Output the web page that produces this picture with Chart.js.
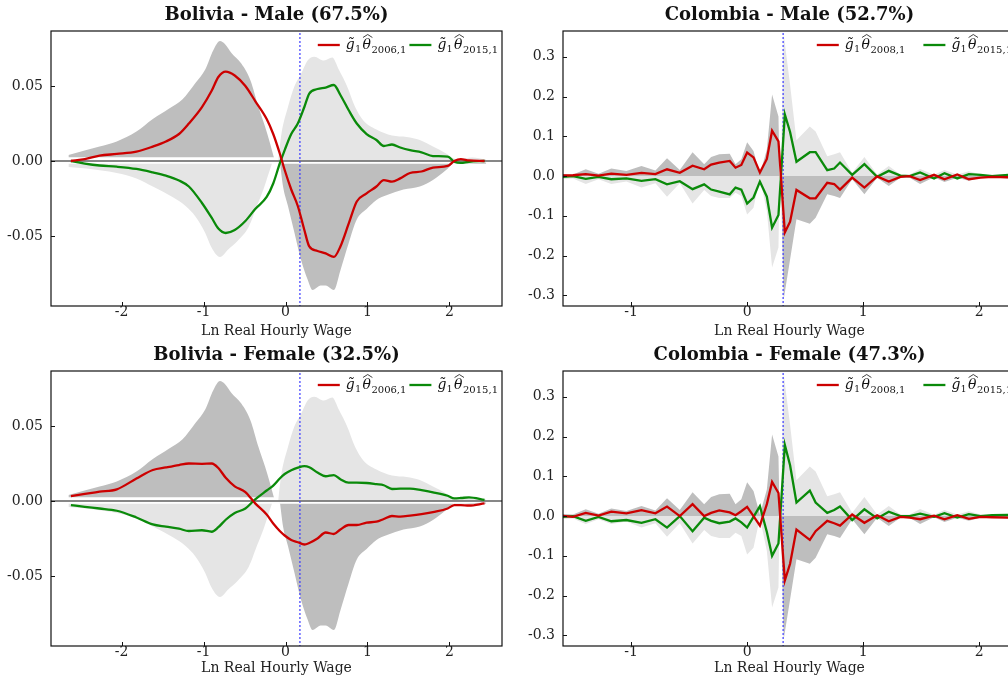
<!DOCTYPE html>
<html>
<head>
<meta charset="utf-8">
<title>Bolivia / Colombia</title>
<script src="https://cdn.jsdelivr.net/npm/chart.js@4.4.1/dist/chart.umd.min.js"></script>
<style>
  html, body { margin: 0; padding: 0; background: #fff; }
  body { width: 1008px; height: 675px; overflow: hidden; position: relative; }
  canvas { position: absolute; }
</style>
</head>
<body>
<canvas id="bolMale" width="504" height="340" style="left:0;top:0"></canvas>
<canvas id="colMale" width="516" height="340" style="left:504px;top:0"></canvas>
<canvas id="bolFemale" width="504" height="335" style="left:0;top:340px"></canvas>
<canvas id="colFemale" width="516" height="335" style="left:504px;top:340px"></canvas>
<script>
// ---------------- data: Bolivia ----------------
const bolX = [-2.62, -2.45, -2.27, -2.06, -1.82, -1.62, -1.46, -1.30, -1.18, -1.02, -0.90, -0.82, -0.73, -0.62, -0.49, -0.37, -0.23, -0.15, -0.07, -0.01,
  0.07, 0.15, 0.23, 0.29, 0.39, 0.49, 0.59, 0.67, 0.77, 0.87, 0.99, 1.11, 1.20, 1.30, 1.40, 1.52, 1.66, 1.80, 1.98, 2.06, 2.14, 2.24, 2.43];

const bolRedMale = [0, 0.0012, 0.0036, 0.0047, 0.0062, 0.0096, 0.013, 0.018, 0.025, 0.036, 0.047, 0.056, 0.0596, 0.057, 0.050, 0.040, 0.028, 0.018, 0.005, -0.006,
  -0.019, -0.030, -0.046, -0.057, -0.060, -0.0616, -0.064, -0.057, -0.042, -0.027, -0.0216, -0.017, -0.0127, -0.0138, -0.0116, -0.008, -0.007, -0.0044, -0.0033, 0, 0.0013, 0.0004, 0];
const bolGreenMale = [0, -0.0017, -0.003, -0.0038, -0.0053, -0.0076, -0.0098, -0.013, -0.017, -0.028, -0.038, -0.045, -0.048, -0.046, -0.040, -0.032, -0.024, -0.015, -0.0016, 0.0073,
  0.018, 0.025, 0.036, 0.045, 0.048, 0.049, 0.0507, 0.044, 0.034, 0.025, 0.018, 0.014, 0.010, 0.011, 0.009, 0.0072, 0.0058, 0.0033, 0.0029, -0.0004, -0.0013, -0.0005, 0];
const bolRedFemale = [0.0033, 0.0048, 0.0062, 0.0078, 0.015, 0.0207, 0.0224, 0.024, 0.025, 0.0248, 0.025, 0.022, 0.0155, 0.0098, 0.006, -0.0016, -0.009, -0.015, -0.020, -0.023,
  -0.026, -0.0275, -0.029, -0.028, -0.025, -0.021, -0.022, -0.019, -0.016, -0.016, -0.0144, -0.0138, -0.012, -0.010, -0.0104, -0.0098, -0.0088, -0.0074, -0.005, -0.0027, -0.0027, -0.003, -0.0016];
const bolGreenFemale = [-0.0027, -0.0039, -0.005, -0.0065, -0.011, -0.0156, -0.0171, -0.0185, -0.020, -0.0195, -0.0205, -0.0175, -0.0125, -0.008, -0.005, 0.0011, 0.007, 0.0103, 0.015, 0.018,
  0.0205, 0.0222, 0.0232, 0.0225, 0.019, 0.0165, 0.0173, 0.0145, 0.0122, 0.0122, 0.012, 0.0112, 0.0105, 0.008, 0.0082, 0.0082, 0.0072, 0.0058, 0.0035, 0.0018, 0.002, 0.0024, 0.0007];

// shaded envelopes (same in both Bolivia panels)
const bolDarkLX = [-2.65, -2.43, -2.27, -2.06, -1.82, -1.62, -1.42, -1.26, -1.10, -0.98, -0.88, -0.80, -0.74, -0.66, -0.54, -0.43, -0.33, -0.25, -0.19, -0.14];
const bolDarkL = [0.004, 0.0073, 0.0096, 0.013, 0.0196, 0.028, 0.035, 0.041, 0.052, 0.061, 0.074, 0.080, 0.078, 0.072, 0.065, 0.054, 0.036, 0.023, 0.012, 0.002];
const bolLightLX = [-2.65, -2.43, -2.06, -1.82, -1.62, -1.38, -1.22, -1.10, -0.98, -0.90, -0.80, -0.70, -0.58, -0.45, -0.35, -0.27, -0.21, -0.165];
const bolLightL = [-0.004, -0.005, -0.008, -0.0116, -0.017, -0.024, -0.030, -0.037, -0.048, -0.058, -0.064, -0.059, -0.053, -0.044, -0.030, -0.019, -0.009, -0.0016];
const bolLightRX = [-0.09, -0.05, 0.03, 0.11, 0.19, 0.27, 0.35, 0.47, 0.57, 0.65, 0.75, 0.85, 0.95, 1.11, 1.30, 1.48, 1.64, 1.80, 1.96, 2.04, 2.12, 2.28, 2.45];
const bolLightR = [0.0, 0.018, 0.036, 0.050, 0.058, 0.067, 0.0696, 0.067, 0.069, 0.061, 0.050, 0.036, 0.027, 0.021, 0.017, 0.016, 0.014, 0.0096, 0.005, 0.002, 0.001, 0.0024, 0.001];
const bolDarkRX = [-0.07, -0.03, 0.03, 0.11, 0.19, 0.27, 0.33, 0.43, 0.49, 0.59, 0.67, 0.77, 0.87, 0.99, 1.11, 1.24, 1.44, 1.64, 1.80, 1.96, 2.06, 2.20, 2.45];
const bolDarkR = [0.0, -0.017, -0.030, -0.048, -0.066, -0.079, -0.086, -0.083, -0.083, -0.086, -0.073, -0.055, -0.039, -0.032, -0.026, -0.0227, -0.019, -0.017, -0.0127, -0.006, -0.0016, -0.0016, -0.001];

// ---------------- data: Colombia ----------------
const colX = [-1.65, -1.50, -1.39, -1.28, -1.17, -1.04, -0.91, -0.79, -0.69, -0.58, -0.47, -0.37, -0.31, -0.24, -0.15, -0.10, -0.05, 0.0, 0.055, 0.11,
  0.17, 0.215, 0.27, 0.325, 0.37, 0.425, 0.54, 0.59, 0.69, 0.75, 0.80, 0.905, 1.01, 1.12, 1.22, 1.32, 1.40, 1.49, 1.61, 1.70, 1.81, 1.91, 2.01, 2.11, 2.25, 2.40];

const colRedMale = [0.001, 0.002, 0.005, 0.001, 0.006, 0.003, 0.008, 0.005, 0.017, 0.008, 0.026, 0.017, 0.029, 0.034, 0.038, 0.021, 0.028, 0.059, 0.047, 0.009,
  0.043, 0.114, 0.087, -0.142, -0.115, -0.035, -0.056, -0.056, -0.017, -0.020, -0.034, -0.004, -0.029, -0.001, -0.014, -0.002, 0.0, -0.010, 0.003, -0.008, 0.004, -0.008, -0.004, -0.002, -0.003, -0.002];
const colGreenMale = [-0.004, 0.0, -0.007, -0.002, -0.008, -0.006, -0.012, -0.008, -0.021, -0.013, -0.033, -0.021, -0.034, -0.039, -0.046, -0.029, -0.034, -0.069, -0.054, -0.014,
  -0.052, -0.130, -0.098, 0.155, 0.111, 0.036, 0.060, 0.060, 0.015, 0.019, 0.034, 0.003, 0.030, -0.002, 0.013, 0.001, 0.0, 0.009, -0.006, 0.007, -0.006, 0.005, 0.003, 0.0, 0.003, 0.001];
const colRedFemale = [0.0025, -0.002, 0.008, 0.001, 0.011, 0.007, 0.015, 0.007, 0.024, 0.0, 0.030, 0.0, 0.008, 0.014, 0.009, 0.002, 0.012, 0.023, 0.0, -0.024,
  0.030, 0.086, 0.058, -0.162, -0.120, -0.034, -0.060, -0.038, -0.012, -0.018, -0.024, 0.004, -0.017, 0.002, -0.013, -0.002, -0.004, -0.008, 0.001, -0.008, 0.002, -0.007, -0.002, -0.003, -0.004, -0.002];
const colGreenFemale = [-0.004, 0.0, -0.012, -0.002, -0.013, -0.010, -0.017, -0.008, -0.029, 0.0, -0.038, -0.004, -0.012, -0.018, -0.014, -0.006, -0.016, -0.029, -0.002, 0.025,
  -0.040, -0.100, -0.069, 0.179, 0.128, 0.034, 0.064, 0.034, 0.008, 0.015, 0.024, -0.010, 0.017, -0.006, 0.011, 0.0, 0.0, 0.006, -0.002, 0.007, -0.004, 0.005, 0.0, 0.0025, 0.003, 0.002];

// shaded envelopes (same in both Colombia panels)
const colBandLX = [-1.65, -1.50, -1.39, -1.28, -1.17, -1.04, -0.91, -0.79, -0.69, -0.58, -0.47, -0.37, -0.31, -0.24, -0.15, -0.10, -0.05, 0.0, 0.055, 0.11, 0.17, 0.215, 0.27, 0.28];
const colDarkL = [0.006, 0.004, 0.017, 0.006, 0.019, 0.013, 0.025, 0.014, 0.045, 0.015, 0.060, 0.030, 0.048, 0.055, 0.056, 0.030, 0.042, 0.085, 0.063, 0.004, 0.067, 0.205, 0.150, 0.0];
const colLightL = [-0.008, -0.006, -0.020, -0.008, -0.020, -0.014, -0.029, -0.018, -0.052, -0.018, -0.069, -0.035, -0.050, -0.055, -0.055, -0.042, -0.050, -0.097, -0.080, -0.004, -0.088, -0.230, -0.180, 0.0];
const colBandRX = [0.29, 0.315, 0.37, 0.425, 0.54, 0.59, 0.69, 0.75, 0.80, 0.905, 1.01, 1.12, 1.22, 1.32, 1.40, 1.49, 1.61, 1.70, 1.81, 1.91, 2.01, 2.11, 2.25, 2.40];
const colLightR = [0.0, 0.357, 0.230, 0.090, 0.125, 0.112, 0.050, 0.055, 0.060, 0.008, 0.048, 0.004, 0.025, 0.004, 0.004, 0.018, 0.003, 0.015, 0.004, 0.012, 0.004, 0.003, 0.006, 0.004];
const colDarkR = [0.0, -0.310, -0.210, -0.109, -0.120, -0.105, -0.046, -0.050, -0.055, -0.008, -0.046, -0.004, -0.025, -0.004, -0.004, -0.020, -0.003, -0.015, -0.004, -0.012, -0.004, -0.003, -0.006, -0.004];

// axes
const bolXTicks = [-2, -1, 0, 1, 2];
const bolYTicks = [-0.05, 0, 0.05];
const colXTicks = [-1, 0, 1, 2];
const colYTicks = [-0.3, -0.2, -0.1, 0, 0.1, 0.2, 0.3];
const bolMinWage = 0.176;
const colMinWage = 0.31;

const RED = '#cc0000', GREEN = '#0a8a0a', DARK = '#bebebe', LIGHT = '#e5e5e5', BLUE = '#3a3aff';
const FONT = '"DejaVu Serif", serif';
Chart.defaults.font.family = FONT;

function pts(xs, ys) { return xs.map((x, i) => ({ x: x, y: ys[i] })); }

function lineDs(xs, ys, color, smooth) {
  return { data: pts(xs, ys), borderColor: color, borderWidth: 2.3, pointRadius: 0, fill: false,
    cubicInterpolationMode: smooth ? 'monotone' : 'default', tension: 0 };
}
function bandDs(xs, ys, color, base, smooth) {
  return { data: pts(xs, ys), borderWidth: 0, borderColor: 'rgba(0,0,0,0)', backgroundColor: color,
    pointRadius: 0, fill: { value: base }, cubicInterpolationMode: smooth ? 'monotone' : 'default', tension: 0 };
}
function guideDs(xs, ys, color, width, dash) {
  return { data: pts(xs, ys), borderColor: color, borderWidth: width, borderDash: dash || [], pointRadius: 0, fill: false };
}

// math label: g~_1 theta^_{year,1}
function mathLabel(ctx, x, y, year, draw) {
  ctx.textAlign = 'left';
  ctx.textBaseline = 'alphabetic';
  ctx.font = 'italic 14px ' + FONT;
  if (draw) ctx.fillText('g\u0303', x, y);
  x += ctx.measureText('g').width + 0.5;
  ctx.font = '9px ' + FONT;
  if (draw) ctx.fillText('1', x, y + 3);
  x += ctx.measureText('1').width + 1.5;
  ctx.font = 'italic 14px ' + FONT;
  const tw = ctx.measureText('\u03b8').width;
  if (draw) {
    ctx.fillText('\u03b8', x, y);
    ctx.beginPath();
    ctx.moveTo(x + 0.5, y - 11.5);
    ctx.lineTo(x + tw / 2 + 1, y - 14.5);
    ctx.lineTo(x + tw + 1.5, y - 11.5);
    ctx.lineWidth = 0.8;
    ctx.stroke();
  }
  x += tw + 0.5;
  const sub = year + ',1';
  ctx.font = '10px ' + FONT;
  if (draw) ctx.fillText(sub, x, y + 3.5);
  x += ctx.measureText(sub).width;
  return x;
}

const panelDeco = {
  id: 'panelDeco',
  afterDatasetsDraw(chart, args, opts) {
    const ctx = chart.ctx, a = chart.chartArea;
    const sx = chart.scales.x, sy = chart.scales.y;
    ctx.save();
    ctx.strokeStyle = '#111';
    ctx.fillStyle = '#111';
    ctx.lineWidth = 1.2;
    ctx.strokeRect(a.left, a.top, a.right - a.left, a.bottom - a.top);
    ctx.lineWidth = 1;
    ctx.beginPath();
    sx.ticks.forEach(t => {
      const px = Math.round(sx.getPixelForValue(t.value)) + 0.5;
      ctx.moveTo(px, a.bottom); ctx.lineTo(px, a.bottom - 4);
    });
    sy.ticks.forEach(t => {
      const py = Math.round(sy.getPixelForValue(t.value)) + 0.5;
      ctx.moveTo(a.left, py); ctx.lineTo(a.left + 4, py);
    });
    ctx.stroke();

    // title
    ctx.font = 'bold 18px ' + FONT;
    ctx.textAlign = 'center';
    ctx.textBaseline = 'middle';
    ctx.fillText(opts.title, (a.left + a.right) / 2, 15);

    // x axis title
    ctx.font = '14px ' + FONT;
    ctx.fillStyle = '#222';
    ctx.fillText('Ln Real Hourly Wage', (a.left + a.right) / 2, opts.xTitleY);
    ctx.fillStyle = '#111';

    // legend, right aligned inside the plot
    const items = [{ color: RED, year: opts.years[0] }, { color: GREEN, year: opts.years[1] }];
    const sampleW = 22, sampleGap = 6;
    let total = 0;
    items.forEach((it, i) => {
      it.w = mathLabel(ctx, 0, 0, it.year, false);
      total += sampleW + sampleGap + it.w + (i ? opts.gap : 0);
    });
    let x = a.right - 4 - total;
    const ly = a.top + 14;
    items.forEach((it, i) => {
      if (i) x += opts.gap;
      ctx.strokeStyle = it.color;
      ctx.lineWidth = 2.3;
      ctx.beginPath(); ctx.moveTo(x, ly); ctx.lineTo(x + sampleW, ly); ctx.stroke();
      x += sampleW + sampleGap;
      ctx.strokeStyle = '#111';
      x = mathLabel(ctx, x, ly + 4, it.year, true);
    });
    ctx.restore();
  }
};

function makePanel(id, cfg) {
  const axisFont = { family: FONT, size: 14 };
  new Chart(document.getElementById(id), {
    type: 'line',
    data: { datasets: cfg.datasets },
    plugins: [panelDeco],
    options: {
      responsive: false,
      animation: false,
      events: [],
      layout: { padding: { top: 31, left: 0, right: cfg.padRight, bottom: 0 } },
      plugins: {
        legend: { display: false },
        tooltip: { enabled: false },
        panelDeco: { title: cfg.title, years: cfg.years, gap: cfg.gap, xTitleY: cfg.xTitleY }
      },
      scales: {
        x: {
          type: 'linear', min: cfg.xMin, max: cfg.xMax,
          afterBuildTicks: s => { s.ticks = cfg.xTicks.map(v => ({ value: v })); },
          afterFit: s => { s.height = cfg.xAxisH; },
          grid: { display: false, drawTicks: false },
          border: { display: false },
          ticks: { font: axisFont, color: '#222', padding: -2, maxRotation: 0, callback: v => String(v) }
        },
        y: {
          type: 'linear', min: cfg.yMin, max: cfg.yMax,
          afterBuildTicks: s => { s.ticks = cfg.yTicks.map(v => ({ value: v })); },
          afterFit: s => { s.width = cfg.yAxisW; },
          grid: { display: false, drawTicks: false },
          border: { display: false },
          ticks: { font: axisFont, color: '#222', padding: 8, callback: v => v.toFixed(cfg.digits) }
        }
      }
    }
  });
}

function bolDatasets(red, green) {
  return [
    lineDs(bolX, red, RED, true),
    lineDs(bolX, green, GREEN, true),
    guideDs([bolMinWage, bolMinWage], [-0.1, 0.09], BLUE, 1.2, [2, 2]),
    guideDs([-3, 3], [0, 0], '#111', 1.2),
    bandDs(bolDarkLX, bolDarkL, DARK, 0.0025, true),
    bandDs(bolLightLX, bolLightL, LIGHT, -0.0018, true),
    bandDs(bolLightRX, bolLightR, LIGHT, 0.0005, true),
    bandDs(bolDarkRX, bolDarkR, DARK, -0.0018, true)
  ];
}
function colDatasets(red, green) {
  return [
    lineDs(colX, red, RED, false),
    lineDs(colX, green, GREEN, false),
    guideDs([colMinWage, colMinWage], [-0.4, 0.4], BLUE, 1.2, [2, 2]),
    bandDs(colBandLX, colDarkL, DARK, 0, false),
    bandDs(colBandLX, colLightL, LIGHT, 0, false),
    bandDs(colBandRX, colLightR, LIGHT, 0, false),
    bandDs(colBandRX, colDarkR, DARK, 0, false)
  ];
}

const bolBase = { xMin: -2.863, xMax: 2.643, yMin: -0.0967, yMax: 0.0867, xTicks: bolXTicks, yTicks: bolYTicks,
  digits: 2, yAxisW: 51, padRight: 2, years: ['2006', '2015'], gap: 3 };
const colBase = { xMin: -1.586, xMax: 2.316, yMin: -0.327, yMax: 0.365, xTicks: colXTicks, yTicks: colYTicks,
  digits: 1, yAxisW: 59, padRight: 4, years: ['2008', '2015'], gap: 18 };

makePanel('bolMale', Object.assign({}, bolBase, { title: 'Bolivia - Male (67.5%)', xAxisH: 34, xTitleY: 331,
  datasets: bolDatasets(bolRedMale, bolGreenMale) }));
makePanel('colMale', Object.assign({}, colBase, { title: 'Colombia - Male (52.7%)', xAxisH: 34, xTitleY: 331,
  datasets: colDatasets(colRedMale, colGreenMale) }));
makePanel('bolFemale', Object.assign({}, bolBase, { title: 'Bolivia - Female (32.5%)', xAxisH: 29, xTitleY: 328,
  datasets: bolDatasets(bolRedFemale, bolGreenFemale) }));
makePanel('colFemale', Object.assign({}, colBase, { title: 'Colombia - Female (47.3%)', xAxisH: 29, xTitleY: 328,
  datasets: colDatasets(colRedFemale, colGreenFemale) }));
</script>
</body>
</html>
